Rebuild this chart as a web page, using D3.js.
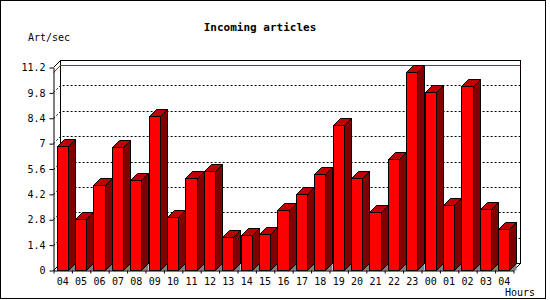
<!DOCTYPE html>
<html>
<head>
<meta charset="utf-8">
<script src="https://cdn.jsdelivr.net/npm/d3@7"></script>
<style>
  body { margin: 0; background: #fff; }
  svg { display: block; }
  text { font-family: 'DejaVu Sans Mono', monospace; }
</style>
</head>
<body>
<div id="chart"></div>
<script>
// hours of the day and article rate per hour
var hours = ['04','05','06','07','08','09','10','11','12','13','14','15','16',
             '17','18','19','20','21','22','23','00','01','02','03','04'];
var rates = [6.86, 2.82, 4.69, 6.79, 4.96, 8.47, 2.92, 5.07, 5.46, 1.81, 1.92, 1.97, 3.30,
             4.19, 5.30, 8.02, 5.07, 3.19, 6.13, 10.94, 9.83, 3.58, 10.17, 3.36, 2.25];
var yTicks = [0, 1.4, 2.8, 4.2, 5.6, 7, 8.4, 9.8, 11.2];

var W = 550, H = 300;
var plotLeft = 53, plotRight = 513, plotBottom = 270, plotTop = 67;
var depth = 7;

var svg = d3.select('#chart').append('svg')
    .attr('width', W)
    .attr('height', H);

// outer frame
svg.append('rect')
    .attr('x', 0.5).attr('y', 0.5)
    .attr('width', 545).attr('height', 298)
    .style('fill', 'white')
    .style('stroke', 'black');

svg.append('text')
    .attr('x', 260).attr('y', 31)
    .attr('text-anchor', 'middle')
    .style('font-size', '11px')
    .style('font-weight', 'bold')
    .text('Incoming articles');

svg.append('text')
    .attr('x', 28).attr('y', 41)
    .style('font-size', '10px')
    .text('Art/sec');

svg.append('text')
    .attr('x', 535).attr('y', 296)
    .attr('text-anchor', 'end')
    .style('font-size', '10px')
    .text('Hours');

var g = svg.append('g').attr('transform', 'translate(0.5,0.5)');

var yScale = d3.scaleLinear().domain([0, 11.2]).range([plotBottom, plotTop]);
var xScale = d3.scaleBand()
    .domain(d3.range(hours.length))
    .range([plotLeft, plotRight])
    .paddingInner(0.4)
    .paddingOuter(0.2);
var xEdge = d3.scaleLinear().domain([0, hours.length]).range([plotLeft, plotRight]);

// back wall
g.append('rect')
    .attr('x', plotLeft + depth).attr('y', plotTop - depth)
    .attr('width', plotRight - plotLeft).attr('height', plotBottom - plotTop)
    .style('fill', 'white')
    .style('stroke', 'black');

// dotted grid lines on back wall and side wall
yTicks.slice(1, -1).forEach(function(v) {
  var yy = Math.round(yScale(v));
  g.append('path')
    .attr('d', 'M' + plotLeft + ',' + yy + 'L' + (plotLeft + depth) + ',' + (yy - depth) +
               'L' + (plotRight + depth) + ',' + (yy - depth))
    .style('fill', 'none')
    .style('stroke', 'black')
    .style('stroke-dasharray', '2,2');
});

// max line
var maxY = Math.round(yScale(d3.max(rates)));
g.append('path')
    .attr('d', 'M' + plotLeft + ',' + maxY + 'L' + (plotLeft + depth) + ',' + (maxY - depth) +
               'L' + (plotRight + depth) + ',' + (maxY - depth))
    .style('fill', 'none')
    .style('stroke', 'red');

// side wall and floor edges
g.append('path')
    .attr('d', 'M' + plotLeft + ',' + plotTop + 'L' + (plotLeft + depth) + ',' + (plotTop - depth) +
               'M' + plotLeft + ',' + plotBottom + 'L' + (plotLeft + depth) + ',' + (plotBottom - depth) +
               'M' + plotRight + ',' + plotBottom + 'L' + (plotRight + depth) + ',' + (plotBottom - depth))
    .style('fill', 'none')
    .style('stroke', 'black');

// bars
var bars = g.selectAll('.bar')
    .data(rates)
    .enter().append('g')
    .attr('class', 'bar');

bars.each(function(d, i) {
  var b = d3.select(this);
  var x0 = Math.round(xScale(i)), x1 = Math.round(xScale(i) + xScale.bandwidth());
  var yt = Math.round(yScale(d)), yb = plotBottom;
  b.append('path')
    .attr('d', 'M' + x1 + ',' + yb + 'L' + (x1 + depth) + ',' + (yb - depth) + 'L' + (x1 + depth) + ',' + yb + 'Z')
    .style('fill', '#808080');
  b.append('path')
    .attr('d', 'M' + x1 + ',' + yt + 'L' + (x1 + depth) + ',' + (yt - depth) +
               'L' + (x1 + depth) + ',' + (yb - depth) + 'L' + x1 + ',' + yb + 'Z')
    .style('fill', '#800000')
    .style('stroke', 'black');
  b.append('path')
    .attr('d', 'M' + x0 + ',' + yt + 'L' + (x0 + depth) + ',' + (yt - depth) +
               'L' + (x1 + depth) + ',' + (yt - depth) + 'L' + x1 + ',' + yt + 'Z')
    .style('fill', '#c00000')
    .style('stroke', 'black');
  b.append('rect')
    .attr('x', x0).attr('y', yt)
    .attr('width', x1 - x0).attr('height', yb - yt)
    .style('fill', 'red')
    .style('stroke', 'black');
});

// axes
g.append('g')
    .attr('transform', 'translate(' + plotLeft + ',0)')
    .call(d3.axisLeft(yScale).tickValues(yTicks).tickFormat(function(d) { return String(d); })
          .tickSize(4).tickSizeOuter(0).tickPadding(4));

g.append('g')
    .attr('transform', 'translate(0,' + plotBottom + ')')
    .call(d3.axisBottom(xEdge).tickValues(d3.range(hours.length + 1)).tickFormat('')
          .tickSize(3).tickSizeOuter(0));

var xAxis = g.append('g')
    .attr('transform', 'translate(0,' + plotBottom + ')')
    .call(d3.axisBottom(xScale).tickFormat(function(i) { return hours[i]; })
          .tickSize(0).tickPadding(7));
xAxis.select('.domain').remove();

svg.selectAll('.tick text')
    .style('font-family', "'DejaVu Sans Mono', monospace")
    .style('font-size', '10px')
    .style('fill', 'black');
svg.selectAll('.domain, .tick line').style('stroke', 'black');
</script>
</body>
</html>
